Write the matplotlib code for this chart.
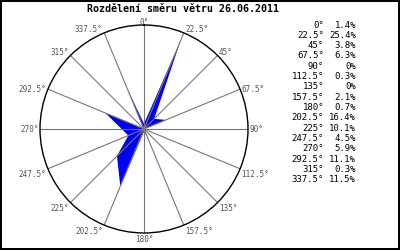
import matplotlib.pyplot as plt
import numpy as np

# Wind direction distribution
directions = [0, 22.5, 45, 67.5, 90, 112.5, 135, 157.5,
              180, 202.5, 225, 247.5, 270, 292.5, 315, 337.5]
percent = [1.4, 25.4, 3.8, 6.3, 0, 0.3, 0, 2.1,
           0.7, 16.4, 10.1, 4.5, 5.9, 11.1, 0.3, 11.5]
dir_labels = ["0°", "22.5°", "45°", "67.5°", "90°", "112.5°", "135°", "157.5°",
              "180°", "202.5°", "225°", "247.5°", "270°", "292.5°", "315°", "337.5°"]
pct_labels = ["1.4%", "25.4%", "3.8%", "6.3%", "0%", "0.3%", "0%", "2.1%",
              "0.7%", "16.4%", "10.1%", "4.5%", "5.9%", "11.1%", "0.3%", "11.5%"]

mono = "DejaVu Sans Mono"
rmax = 27.5

fig = plt.figure(figsize=(4, 2.5), dpi=100)
fig.patch.set_edgecolor("black")
fig.patch.set_linewidth(1.5)

ax = fig.add_axes([0.10, 0.068, 0.52, 0.832], projection="polar")
ax.set_theta_zero_location("N")
ax.set_theta_direction(-1)

theta = np.deg2rad(directions + [directions[0]])
r = percent + [percent[0]]
ax.fill(theta, r, color="blue", linewidth=0)

ax.set_ylim(0, rmax)
ax.set_yticks([])
ax.set_xticks(np.deg2rad(directions))
ax.set_xticklabels([])
ax.tick_params(axis="x", size=0)
ax.xaxis.grid(True, color="#777777", linewidth=0.8)
ax.spines["polar"].set_color("black")
ax.spines["polar"].set_linewidth(1)

# direction labels just outside the circle
px = 0.72
for d, lab in zip(directions, dir_labels):
    s, c = np.sin(np.deg2rad(d)), np.cos(np.deg2rad(d))
    if s > 0.1:
        ha, dx = "left", 1.5
    elif s < -0.1:
        ha, dx = "right", -1.5
    else:
        ha, dx = "center", 0
    if c > 0.5:
        dy = 3
    elif c < -0.2:
        dy = -6
    else:
        dy = 0
    ax.annotate(lab, xy=(np.deg2rad(d), rmax), xytext=(dx * px, dy * px),
                textcoords="offset points", ha=ha, va="center",
                fontfamily=mono, fontsize=5.5, color="#555555", annotation_clip=False)

fig.text(0.458, 0.966, "Rozdělení směru větru 26.06.2011", ha="center", va="center",
         fontfamily=mono, fontsize=7.2, fontweight="bold")

for i in range(len(directions)):
    y = 1 - (25 + i * 10.33) / 250
    fig.text(0.81, y, dir_labels[i], ha="right", va="center", fontfamily=mono, fontsize=6.5)
    fig.text(0.89, y, pct_labels[i], ha="right", va="center", fontfamily=mono, fontsize=6.5)

fig.savefig("out.png", dpi=100, edgecolor=fig.get_edgecolor())
